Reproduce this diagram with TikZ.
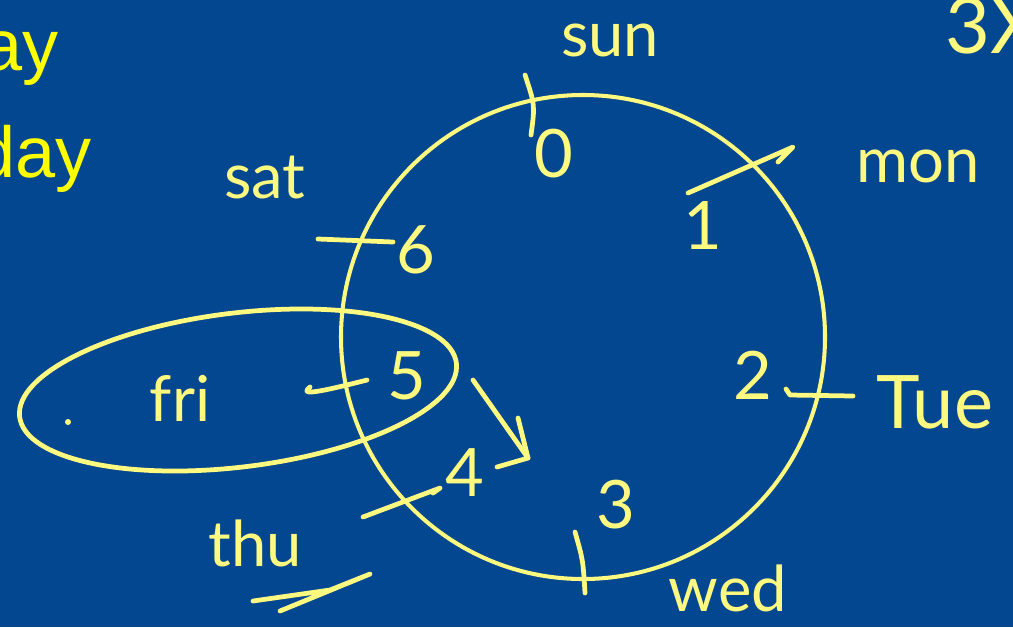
\documentclass[tikz,border=0pt]{standalone}
\usepackage{fontspec}
\setmainfont{Liberation Sans}
\newfontfamily\penfont{Lato}

\definecolor{boardblue}{RGB}{3,71,145}
\definecolor{penyellow}{RGB}{255,249,128}
\definecolor{slideyellow}{RGB}{255,255,0}

\begin{document}
\begin{tikzpicture}[
    x=0.01cm, y=-0.01cm,
    pen/.style={draw=penyellow, line width=1.35pt, line cap=round, line join=round},
    word/.style={text=penyellow, font=\penfont\fontsize{18}{18}\selectfont, inner sep=0pt},
    digit/.style={text=penyellow, font=\penfont\fontsize{19}{19}\selectfont, inner sep=0pt},
    slide/.style={text=slideyellow, font=\fontsize{20.5}{20.5}\selectfont, inner sep=0pt, anchor=base east}
]

% Board
\clip (0,0) rectangle (1013,627);
\fill[boardblue] (0,0) rectangle (1013,627);

% Slide text (cut off at the left)
\node[slide] (slide-a) at (59,70) {ay};
\node[slide] (slide-b) at (92,177) {day};
\node[word, anchor=base west, font=\penfont\fontsize{22}{22}\selectfont] (times) at (945,53) {3X};

% Clock of the week
\coordinate (ctr) at (583,337);
\draw[pen, line width=1.15pt] (ctr) circle[radius=242];

% Sunday
\draw[pen] (525,75) .. controls (535,105) .. (531,135);
\node[digit] (n0) at (554,154) {0};
\node[word] (sun) at (610,40) {sun};

% Monday
\draw[pen] (688,193) -- (793,147) -- (778,162);
\node[digit] (n1) at (703,226) {1};
\node[word] (mon) at (918,166) {mon};

% Tuesday
\draw[pen] (786,389) -- (790,395) -- (853,396);
\node[digit] (n2) at (753,375) {2};
\node[word, font=\penfont\fontsize{21}{21}\selectfont] (tue) at (935,402) {Tue};

% Wednesday
\draw[pen] (575,532) .. controls (583,560) .. (585,593);
\node[digit] (n3) at (616,505) {3};
\node[word] (wed) at (728,588) {wed};

% Thursday
\draw[pen] (363,517) -- (440,488) -- (433,493);
\node[digit] (n4) at (465,473) {4};
\node[word] (thu) at (255,543) {thu};
\draw[pen] (253,601) -- (330,590) -- (370,574) -- (280,611);

% Friday
\draw[pen] (310,387) .. controls (300,395) and (312,394) .. (367,380);
\node[digit] (n5) at (407,376) {5};
\node[word] (fri) at (180,398) {fri};
\fill[penyellow] (68,422) circle[radius=3];
\draw[pen, rotate around={7:(238,390)}] (238,390) ellipse[x radius=220, y radius=77];

% Saturday
\draw[pen] (318,239) -- (393,242);
\node[digit] (n6) at (416,250) {6};
\node[word] (sat) at (265,178) {sat};

% counting back from 5 to 4
\coordinate (back-from) at (473,380);
\coordinate (back-to) at (528,458);
\draw[pen] (back-from) -- (back-to);
\draw[pen] (back-to) ++(-10,-40) -- (back-to) -- ++(-31,9);

\end{tikzpicture}
\end{document}
